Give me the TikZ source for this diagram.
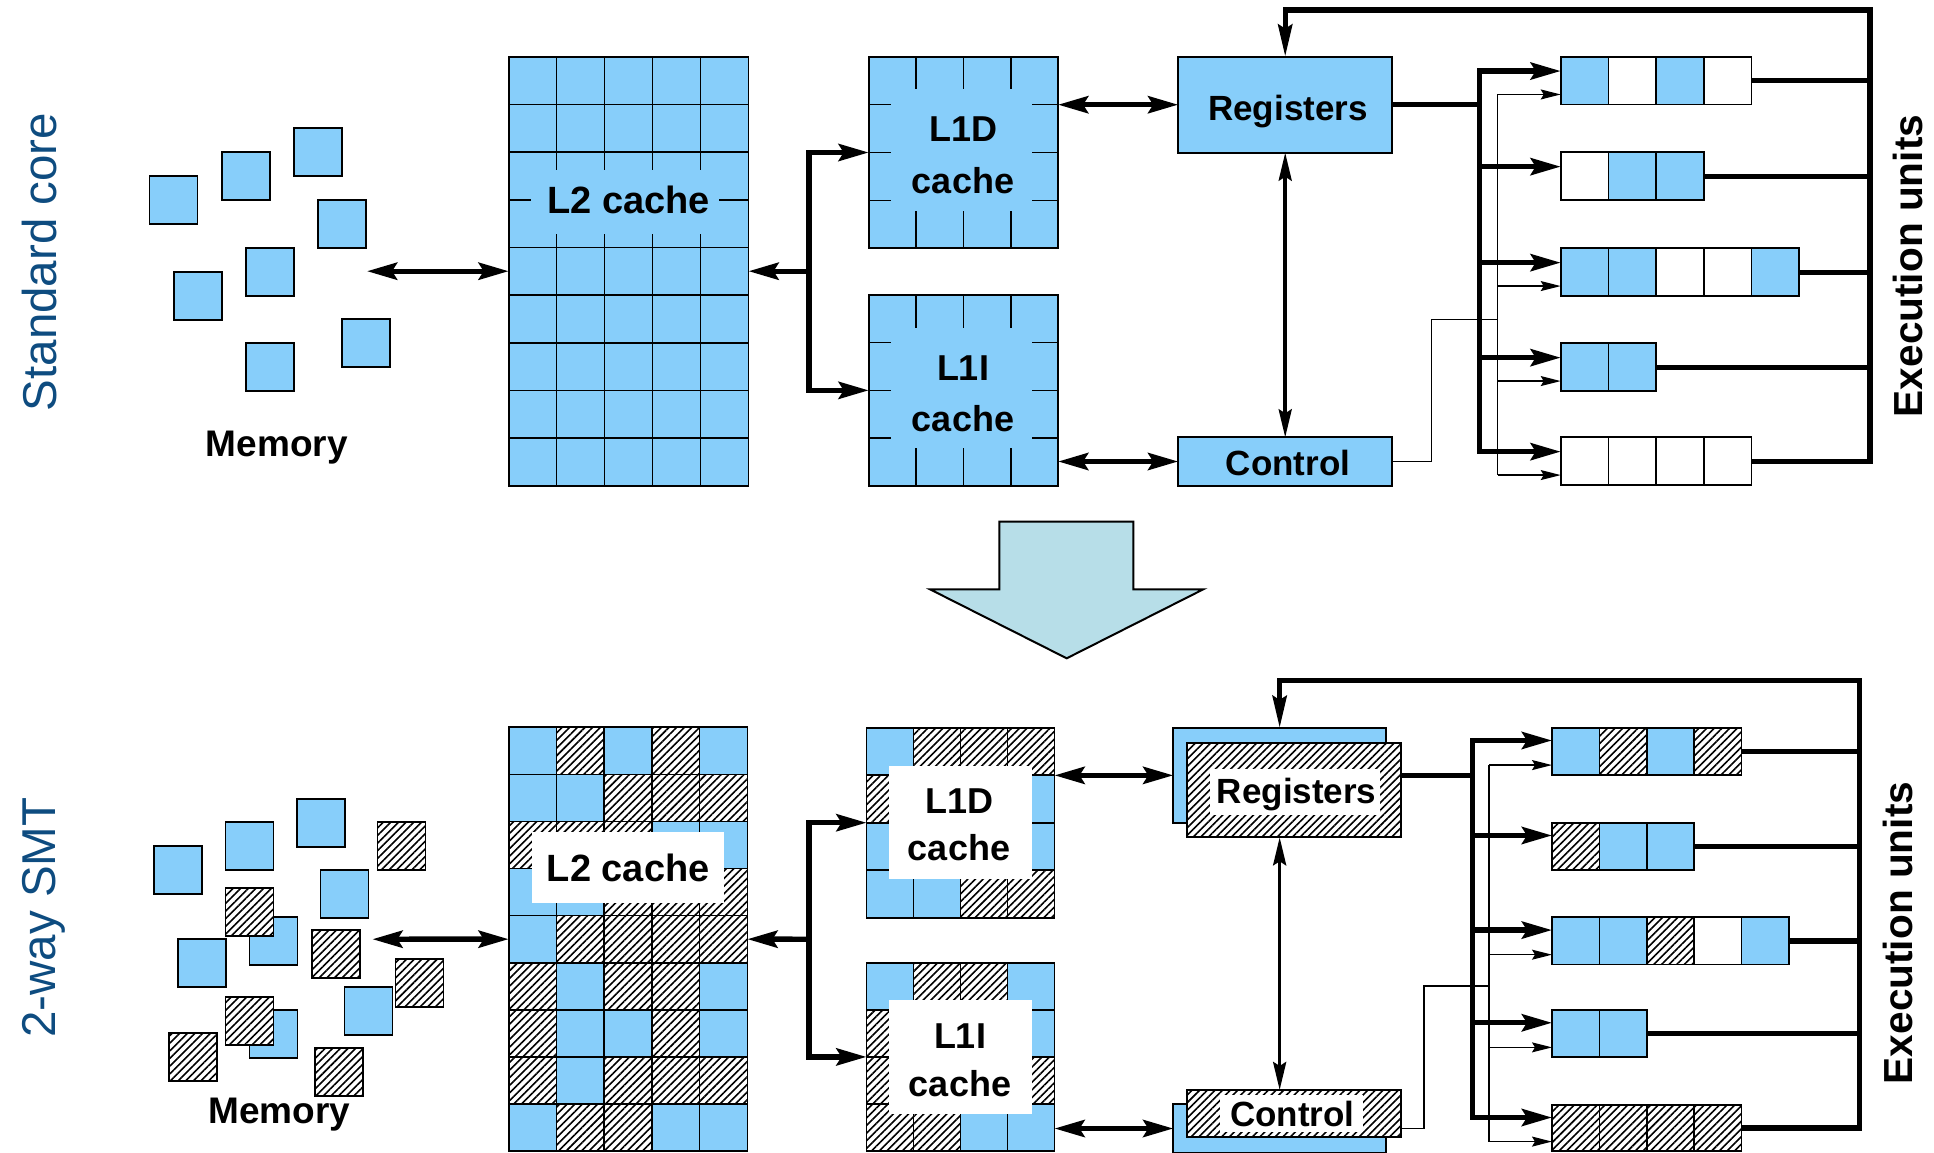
\documentclass[tikz,border=0pt]{standalone}
\usepackage{fontspec}
\setmainfont{Liberation Sans}
\usetikzlibrary{arrows.meta,patterns.meta,calc,fit}
\definecolor{cblue}{RGB}{135,206,250}
\definecolor{arrowblue}{RGB}{183,222,232}
\definecolor{textblue}{RGB}{14,76,128}
\newcommand\fillcells[5]{%
  \foreach \rw [count=\ri from 0] in {#5}{%
    \foreach \cc [count=\ki from 0] in \rw {%
      \ifnum\cc=0 \fill[cblue] ({#1+\ki*#3},{#2+\ri*#4}) rectangle ++(#3,#4);\fi
      \ifnum\cc=1 \path[hatchfill] ({#1+\ki*#3},{#2+\ri*#4}) rectangle ++(#3,#4);\fi
    }%
  }%
}
\newcommand\gridlines[6]{%
  \foreach \ii in {1,...,#5}{\ifnum\ii<#5 \draw[gridl] ({#1+\ii*#3},#2) -- ++(0,{#6*#4});\fi}%
  \foreach \jj in {1,...,#6}{\ifnum\jj<#6 \draw[gridl] (#1,{#2+\jj*#4}) -- ++({#5*#3},0);\fi}%
}
\newcommand\queuecells[5]{%
  \foreach \cc [count=\ki from 0] in {#5}{%
    \ifnum\cc=0 \fill[cblue] ({#1+\ki*#3},#2) rectangle ++(#3,#4);\fi
    \ifnum\cc=1 \path[hatchfill] ({#1+\ki*#3},#2) rectangle ++(#3,#4);\fi
    \ifnum\ki>0 \draw[gridl] ({#1+\ki*#3},#2) -- ++(0,#4);\fi
  }%
}
\newcommand\memblue[2]{\draw[boxline,fill=cblue] (#1,#2) rectangle ++(48,48);}
\newcommand\memhatch[2]{\draw[boxline,hatchfill] (#1,#2) rectangle ++(48,48);}
\begin{document}
\begin{tikzpicture}[x=0.5pt,y=-0.5pt,
  boxn/.style={draw,line width=0.85pt,inner sep=0pt,outer sep=0pt},
  gridl/.style={line width=0.8pt},
  boxline/.style={line width=0.85pt},
  hatchfill/.style={preaction={fill=white},pattern={Lines[angle=45,distance=2.7pt,line width=0.8pt]}},
  fat/.style={line width=2.7pt},
  mid/.style={line width=1.8pt},
  thinl/.style={line width=0.65pt},
  fatend/.style={-{Stealth[length=15pt,width=8.5pt,inset=2.5pt]}},
  fatboth/.style={{Stealth[length=15pt,width=8.5pt,inset=2.5pt]}-{Stealth[length=15pt,width=8.5pt,inset=2.5pt]}},
  midboth/.style={{Stealth[length=14pt,width=6.5pt,inset=2pt]}-{Stealth[length=14pt,width=6.5pt,inset=2pt]}},
  fbend/.style={-{Stealth[length=16pt,width=7pt,inset=2pt]}},
  thinend/.style={-{Stealth[length=10pt,width=5pt,inset=1.5pt]}},
  lab/.style={font=\bfseries\fontsize{18pt}{21pt}\selectfont,inner sep=0pt,anchor=base},
  side/.style={font=\fontsize{23.75pt}{28pt}\selectfont,text=textblue,rotate=90,anchor=base,inner sep=0pt},
  exu/.style={font=\bfseries\fontsize{20.3pt}{24pt}\selectfont,rotate=90,anchor=base,inner sep=0pt}
]
\useasboundingbox (0,0) rectangle (1934,1152);

% side labels
\node[side] (sc) at (56,262) {Standard core};
\node[side] (smt) at (55,917.5) {2-way SMT};

% ================= TOP: standard core =================
\memblue{149.5}{176} \memblue{222}{152.3} \memblue{293.9}{128} \memblue{317.9}{200}
\memblue{174}{271.7} \memblue{246}{247.7} \memblue{341.8}{319.3} \memblue{246}{343.3}
\node[lab,font=\bfseries\fontsize{18.5pt}{21pt}\selectfont] (memlabA) at (276.8,456.7) {Memory};

% L2
\fill[cblue] (508.7,56.7) rectangle (748.5,485.7);
\gridlines{508.7}{56.7}{47.96}{47.667}{5}{9}
\fill[cblue] (530.6,170) rectangle (719.4,234.3);
\node[boxn,fit={(508.7,56.7) (748.5,485.7)}] (L2a) {};
\node[lab,font=\bfseries\fontsize{19pt}{21pt}\selectfont] (L2tA) at (628.6,213.3) {L2 cache};

% L1D
\fill[cblue] (868.7,56.7) rectangle (1058.1,248.3);
\gridlines{868.7}{56.7}{47.35}{47.9}{4}{4}
\fill[cblue] (891,89.3) rectangle (1032,210.7);
\node[boxn,fit={(868.7,56.7) (1058.1,248.3)}] (L1Da) {};
\node[lab] (L1DtA) at (963,141.7) {L1D};
\node[lab] (L1DcA) at (963,193.3) {cache};

% L1I
\fill[cblue] (868.7,295) rectangle (1058.1,485.7);
\gridlines{868.7}{295}{47.35}{47.675}{4}{4}
\fill[cblue] (891,328.3) rectangle (1032,448.3);
\node[boxn,fit={(868.7,295) (1058.1,485.7)}] (L1Ia) {};
\node[lab] (L1ItA) at (963,380) {L1I};
\node[lab] (L1IcA) at (963,431.7) {cache};

% Registers / Control
\node[boxn,fill=cblue,fit={(1178.2,56.7) (1392.2,152.7)}] (Ra) {};
\node[lab,font=\bfseries\fontsize{17.5pt}{21pt}\selectfont] (RtA) at (1288,120) {Registers};
\node[boxn,fill=cblue,fit={(1178.2,437.3) (1392.2,485.7)}] (Ca) {};
\node[lab,font=\bfseries\fontsize{17.5pt}{21pt}\selectfont] (CtA) at (1288,475) {Control};

% queues
\queuecells{1560.7}{56.7}{47.7}{47.8}{0,2,0,2}
\node[boxn,fit={(1560.7,56.7) (1751.5,104.5)}] (Qa1) {};
\queuecells{1560.7}{152.3}{47.7}{47.8}{2,0,0}
\node[boxn,fit={(1560.7,152.3) (1703.8,200.1)}] (Qa2) {};
\queuecells{1560.7}{248.3}{47.7}{47.8}{0,0,2,2,0}
\node[boxn,fit={(1560.7,248.3) (1799.2,296.1)}] (Qa3) {};
\queuecells{1560.7}{343.3}{47.7}{47.8}{0,0}
\node[boxn,fit={(1560.7,343.3) (1656.1,391.1)}] (Qa4) {};
\queuecells{1560.7}{437.3}{47.7}{47.8}{2,2,2,2}
\node[boxn,fit={(1560.7,437.3) (1751.5,485.1)}] (Qa5) {};
\node[exu] (exA) at (1922,266) {Execution units};

% connectors top
\coordinate (memA) at (367,271.2);
\coordinate (brA) at (809,271.2);
\coordinate (busA) at (1479.7,104.7);
\coordinate (ctlA) at (1431.2,319.3);
\coordinate (thinA) at (1497.8,319.3);
\coordinate (fbA) at (1870,9.9);
\foreach \q in {1,...,5}{%
  \coordinate (ta\q) at ($(Qa\q.north west)!0.3!(Qa\q.south west)$);
  \coordinate (na\q) at ($(Qa\q.north west)!0.79!(Qa\q.south west)$);
}
\draw[fat,fatboth] (memA) -- (L2a.west);
\draw[fat,fatend] (brA) -- (L2a.east);
\draw[fat,fatend] (brA) |- (L1Da.west);
\draw[fat,fatend] (brA) |- (L1Ia.west);
\draw[fat,fatboth] (L1Da.east |- Ra.west) -- (Ra.west);
\draw[fat,fatboth] (L1Ia.east |- Ca.west) -- (Ca.west);
\draw[mid,midboth] (Ra.south) -- (Ca.north);
\draw[thinl] (Ca.east) -| (ctlA) -- (thinA);
\draw[thinl] (thinA |- na1) -- (thinA |- na5);
\foreach \q in {1,3,4,5} \draw[thinl,thinend] (thinA |- na\q) -- (na\q);
\draw[fat] (Ra.east) -- (busA |- Ra.east);
\draw[fat,line cap=rect] (busA |- ta1) -- (busA |- ta5);
\foreach \q in {1,...,5} \draw[fat,fatend] (busA |- ta\q) -- (ta\q);
\foreach \q in {1,...,4} \draw[fat] (Qa\q.east) -- (fbA |- Qa\q.east);
\draw[fat,fbend] (Qa5.east) -| (fbA) -| (Ra.north);

% big arrow
\draw[line width=1pt,fill=arrowblue,line join=miter] (999.3,521.7) -- (1133.3,521.7) -- (1133.3,589.3) -- (1203.3,589.3) -- (1066.7,658.3) -- (930,589.3) -- (999.3,589.3) -- cycle;

% ================= BOTTOM: 2-way SMT =================
\memblue{154}{846} \memblue{225.5}{822.3} \memblue{297}{799} \memblue{320.4}{870}
\memblue{178}{939.3} \memblue{249.5}{917.3} \memblue{344.4}{986.7} \memblue{249.5}{1010}
\memhatch{225.5}{888} \memhatch{377.6}{822.3} \memhatch{311.7}{930} \memhatch{395.4}{959.3}
\memhatch{225.5}{997.3} \memhatch{168.9}{1033.3} \memhatch{314.8}{1047.7}
\node[lab,font=\bfseries\fontsize{18.5pt}{21pt}\selectfont] (memlabB) at (279.3,1123.3) {Memory};

% L2
\fillcells{508.7}{727.2}{47.74}{47.1}{{0,1,0,1,0},{0,0,1,1,1},{1,1,1,0,0},{0,0,1,1,1},{0,1,1,1,1},{1,0,1,1,0},{1,0,0,1,0},{1,0,1,1,1},{0,1,1,0,0}}
\gridlines{508.7}{727.2}{47.74}{47.1}{5}{9}
\fill[white] (532.3,831.7) rectangle (724,902.7);
\node[boxn,fit={(508.7,727.2) (747.4,1151.1)}] (L2b) {};
\node[lab,font=\bfseries\fontsize{19pt}{21pt}\selectfont] (L2tB) at (628.3,881.7) {L2 cache};

% L1D
\fillcells{866.5}{727.7}{47}{47.5}{{0,1,1,1},{1,0,0,0},{0,0,0,0},{0,0,1,1}}
\gridlines{866.5}{727.7}{47}{47.5}{4}{4}
\fill[white] (889.3,765.7) rectangle (1031.7,879.3);
\node[boxn,fit={(866.5,727.7) (1054.5,917.7)}] (L1Db) {};
\node[lab] (L1DtB) at (959,813.3) {L1D};
\node[lab] (L1DcB) at (959,860) {cache};

% L1I
\fillcells{866.5}{962.7}{47}{47.1}{{0,1,1,0},{1,0,0,0},{1,0,0,1},{1,1,0,0}}
\gridlines{866.5}{962.7}{47}{47.1}{4}{4}
\fill[white] (889.3,1000) rectangle (1031.7,1114.3);
\node[boxn,fit={(866.5,962.7) (1054.5,1151.1)}] (L1Ib) {};
\node[lab] (L1ItB) at (960,1048.3) {L1I};
\node[lab] (L1IcB) at (960,1096.7) {cache};

% Registers / Control (two threads)
\node[boxn,fill=cblue,fit={(1173.3,728) (1386,822.7)}] (Rbk) {};
\node[boxn,hatchfill,fit={(1187.3,742.7) (1400.7,837.3)}] (Rf) {};
\fill[white] (1210,769) rectangle (1380,815);
\node[lab,font=\bfseries\fontsize{17.5pt}{21pt}\selectfont] (RtB) at (1296.7,803.3) {Registers};
\node[boxn,fill=cblue,fit={(1173.3,1104) (1386,1153)}] (Cbk) {};
\node[boxn,hatchfill,fit={(1187.3,1090) (1400.7,1136.7)}] (Cf) {};
\fill[white] (1220,1095) rectangle (1363,1132);
\node[lab,font=\bfseries\fontsize{17.5pt}{21pt}\selectfont] (CtB) at (1292.2,1126.7) {Control};

% queues
\queuecells{1552}{727.7}{47.35}{47.3}{0,1,0,1}
\node[boxn,fit={(1552,727.7) (1741.4,775)}] (Qb1) {};
\queuecells{1552}{822.7}{47.35}{47.3}{1,0,0}
\node[boxn,fit={(1552,822.7) (1694.05,870)}] (Qb2) {};
\queuecells{1552}{917.3}{47.35}{47.3}{0,0,1,2,0}
\node[boxn,fit={(1552,917.3) (1788.75,964.6)}] (Qb3) {};
\queuecells{1552}{1010}{47.35}{47.3}{0,0}
\node[boxn,fit={(1552,1010) (1646.7,1057.3)}] (Qb4) {};
\queuecells{1552}{1105}{47.35}{46.3}{1,1,1,1}
\node[boxn,fit={(1552,1105) (1741.4,1151.3)}] (Qb5) {};
\node[exu] (exB) at (1912,933) {Execution units};

% connectors bottom
\coordinate (memB) at (372.4,939.2);
\coordinate (brB) at (809,939.2);
\coordinate (busB) at (1472.4,775.35);
\coordinate (ctlB) at (1424,986);
\coordinate (thinB) at (1489,986);
\coordinate (fbB) at (1859.3,680.7);
\foreach \q in {1,...,5}{%
  \coordinate (tb\q) at ($(Qb\q.north west)!0.27!(Qb\q.south west)$);
  \coordinate (nb\q) at ($(Qb\q.north west)!0.79!(Qb\q.south west)$);
}
\draw[fat,fatboth] (memB) -- (L2b.west);
\draw[fat,fatend] (brB) -- (L2b.east);
\draw[fat,fatend] (brB) |- (L1Db.west);
\draw[fat,fatend] (brB) |- (L1Ib.west);
\draw[fat,fatboth] (L1Db.east |- Rbk.west) -- (Rbk.west);
\draw[fat,fatboth] (L1Ib.east |- Cbk.west) -- (Cbk.west);
\draw[mid,midboth] (Rbk.center |- Rf.south) -- (Cbk.center |- Cf.north);
\draw[thinl] (Cf.east |- Cbk.center) -| (ctlB) -- (thinB);
\draw[thinl] (thinB |- nb1) -- (thinB |- nb5);
\foreach \q in {1,3,4,5} \draw[thinl,thinend] (thinB |- nb\q) -- (nb\q);
\draw[fat] (Rf.east |- Rbk.center) -- (busB |- Rbk.center);
\draw[fat,line cap=rect] (busB |- tb1) -- (busB |- tb5);
\foreach \q in {1,...,5} \draw[fat,fatend] (busB |- tb\q) -- (tb\q);
\foreach \q in {1,...,4} \draw[fat] (Qb\q.east) -- (fbB |- Qb\q.east);
\draw[fat,fbend] (Qb5.east) -| (fbB) -| (Rbk.north);
\end{tikzpicture}
\end{document}
